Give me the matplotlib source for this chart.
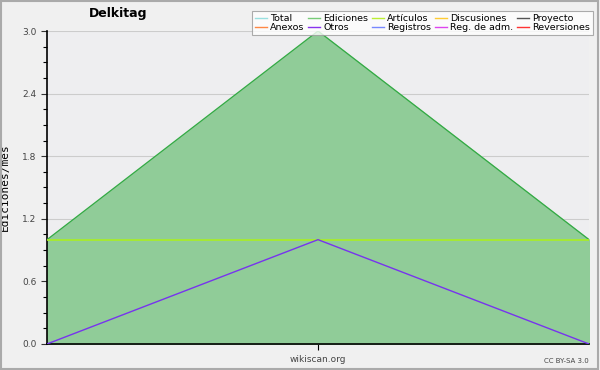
import numpy as np
import matplotlib.pyplot as plt
from matplotlib.ticker import MultipleLocator
from matplotlib.lines import Line2D
from matplotlib.patches import Rectangle

x = [0, 1, 2]
ediciones = [1, 3, 1]
articulos = [1, 1, 1]
otros = [0, 1, 0]

legend_names = ['Total', 'Ediciones', 'Artículos', 'Discusiones', 'Proyecto',
                'Anexos', 'Otros', 'Registros', 'Reg. de adm.', 'Reversiones']
legend_colors = ['#99e0e0', '#77cc77', '#bbee33', '#ffcc33', '#555555',
                 '#ff8844', '#8833ee', '#7788ff', '#dd44ee', '#ff3333']

fig = plt.figure(figsize=(6, 3.7), dpi=100, facecolor='#f0f0f0')
fig.patches.append(Rectangle((0.002, 0.003), 0.995, 0.994, transform=fig.transFigure,
                             fill=False, edgecolor='#aaaaaa', linewidth=1.5))
ax = fig.add_axes([0.0783, 0.0703, 0.9034, 0.8459])
ax.set_facecolor('#eeeef0')

ax.fill_between(x, 0, ediciones, color='#90cc98', zorder=2)
ax.plot(x, ediciones, color='#33aa44', lw=0.9, zorder=3)
ax.plot(x, articulos, color='#aaee22', lw=1.2, zorder=4)
ax.plot(x, otros, color='#7733ee', lw=1.0, zorder=5)

ax.set_xlim(0, 2)
ax.set_ylim(0, 3.0)
ax.yaxis.set_major_locator(MultipleLocator(0.6))
ax.yaxis.set_minor_locator(MultipleLocator(0.15))
ax.yaxis.set_major_formatter(lambda v, p: f'{v:.1f}')
ax.set_xticks([1])
ax.set_xticklabels([''])
ax.grid(axis='y', color='#cccccc', lw=0.8, zorder=1)
ax.set_axisbelow(True)
for s in ['top', 'right']:
    ax.spines[s].set_visible(False)
ax.tick_params(axis='y', labelsize=6.5, length=4, width=0.8, colors='#333333', labelcolor='#444444')
ax.tick_params(axis='y', which='minor', length=3, width=0.8)
ax.tick_params(axis='x', length=4, width=0.8)
ax.spines['left'].set_linewidth(1.2)
ax.spines['bottom'].set_linewidth(1.2)

ax.set_ylabel('Ediciones/mes', fontsize=8, family='DejaVu Sans Mono')
ax.yaxis.set_label_coords(-37 / 542, 0.5)
fig.text(118 / 600, 1 - 14 / 370, 'Delkitag', fontsize=9, fontweight='bold', ha='center', va='center')
fig.text(318 / 600, 1 - 360 / 370, 'wikiscan.org', fontsize=6.5, ha='center', va='center', color='#444444')
fig.text(589 / 600, 1 - 361 / 370, 'CC BY-SA 3.0', fontsize=5, ha='right', va='center', color='#444444')

handles = [Line2D([], [], color=c, lw=1) for c in legend_colors]
order = []
for col in range(5):
    order += [col, col + 5]
leg = fig.legend([handles[i] for i in order], [legend_names[i] for i in order],
                 ncol=5, loc='upper right', bbox_to_anchor=(593 / 600, 1 - 11 / 370),
                 fontsize=6.8, frameon=True, fancybox=False, edgecolor='#999999',
                 handlelength=1.3, handletextpad=0.35, columnspacing=0.35,
                 labelspacing=0.05, borderpad=0.3, borderaxespad=0)
leg.get_frame().set_linewidth(0.8)

fig.savefig('out.png', dpi=100, facecolor=fig.get_facecolor())
